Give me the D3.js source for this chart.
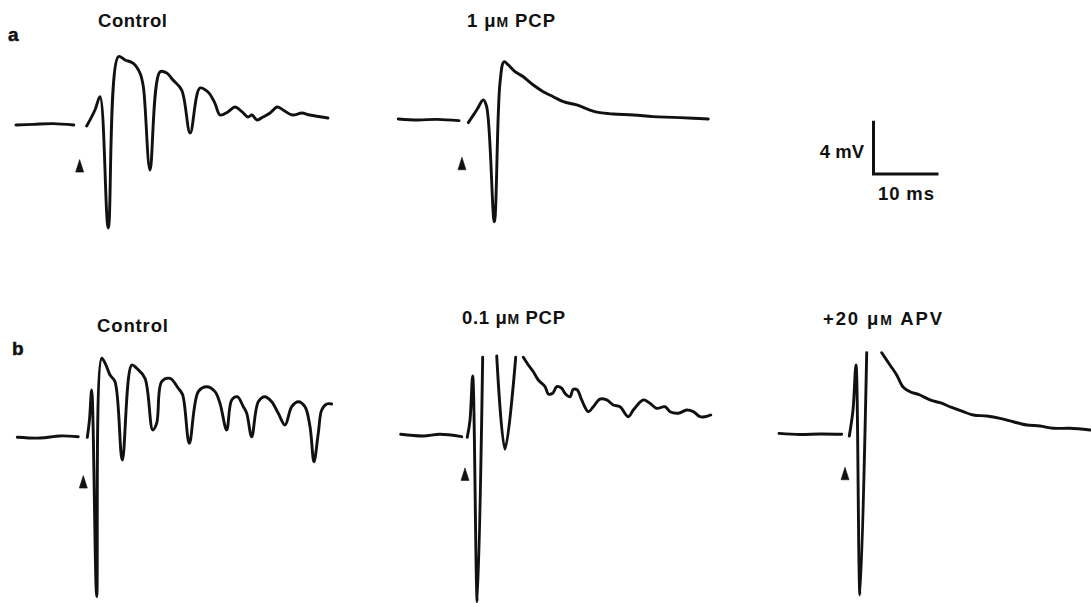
<!DOCTYPE html>
<html><head><meta charset="utf-8">
<script src="https://cdn.jsdelivr.net/npm/d3@7"></script>
<style>body{margin:0;background:#fff}svg{display:block}</style>
</head><body>
<svg id="c" width="1091" height="603"></svg>
<script>
// ---- data (time in ms from stimulus, potential in mV from baseline; null = gap) ----
const panelIds = ["aControl", "aPCP1", "bControl", "bPCP01", "bAPV"];
const panelTitles = ["Control", "1 μM PCP", "Control", "0.1 μM PCP", "+20 μM APV"];
const rowLabels = ["a", "b"];

const aControlT = [-9.7,-7,-4,-0.8,0.2,1.18,2.46,3.23,4.5,6.05,7.08,8.35,9.38,9.9,10.92,12.46,13.5,14.46,15.8,17.1,18.6,19.85,20.9,21.7,22.9,24.0,25.1,26.0,26.6,27.4,28.3,29.4,30.5,31.4,32.8,34.3,35.5,38.3];
const aControlV = [0,0.05,0.1,0,null,-0.08,1.13,2.13,-7.74,5.14,4.89,4.64,3.91,2.88,-3.38,4.0,3.91,3.38,2.63,-0.6,2.78,2.48,1.65,0.75,0.98,1.35,0.98,0.6,0.75,0.38,0.6,0.9,1.35,1.13,0.75,0.9,0.75,0.53];

const aPCP1T = [-9.5,-6.5,-3.5,-0.15,0.5,1.28,2.57,3.58,4.1,5.28,6.15,6.77,7.43,8.46,9.74,11.28,12.8,14.35,15.9,17.95,20.0,21.5,23.6,26.7,29.7,32.8,35.9,38.2];
const aPCP1V = [0.08,0.0,0.05,-0.05,null,-0.2,0.75,1.5,1.0,-7.65,2.78,4.38,4.14,3.63,3.25,2.63,2.13,1.75,1.38,1.13,0.75,0.55,0.45,0.38,0.25,0.2,0.13,0.08];

const bControlT = [-10.15,-6.66,-3.58,-0.77,0,0.62,0.95,1.29,2.06,2.83,3.49,4.11,4.88,6.0,7.45,8.22,9.49,10.68,11.29,12.06,13.34,14.62,15.29,16.31,17.69,18.98,20.26,21.03,22.06,22.83,23.69,24.62,25.14,25.91,26.92,27.95,28.98,30.0,31.03,32.06,33.08,34.1,34.88,35.49,36.15,36.68,37.45,38.2];
const bControlV = [-0.02,-0.08,0.08,0.02,null,-0.02,1.28,3.53,-12.0,5.92,5.41,4.66,4.16,-1.73,5.41,5.17,4.41,0.53,1.03,4.16,4.41,3.66,3.16,-0.47,3.41,3.78,3.41,2.53,0.53,2.78,3.03,2.28,1.78,0.02,2.65,3.03,2.65,1.78,0.9,2.28,2.65,2.28,0.77,-1.86,0.28,2.03,2.48,2.48];

const bPCP01T = [-9.89,-6.42,-3.85,-0.51,0,0.35,0.77,1.18,1.89,2.72,3.8,4.88,6.15,7.8,8.4,8.97,9.74,10.51,11.28,12.31,12.82,13.49,14.11,14.88,15.38,16.15,16.66,17.28,17.95,18.97,19.74,20.77,21.8,22.82,23.85,25.12,25.89,27.43,28.46,29.49,30.77,31.54,32.82,34.11,35.12,36.15,36.92,37.8];
const bPCP01V = [0.13,0,0.13,-0.05,null,-0.1,1.2,4.51,-12.46,5.92,null,6.02,-1.0,5.92,null,5.92,5.34,4.83,4.21,3.71,3.16,3.21,3.71,3.59,3.21,2.95,3.51,3.46,2.71,1.83,2.2,2.78,2.71,2.33,2.2,1.45,1.95,2.71,2.46,2.08,2.2,1.83,1.71,1.95,1.83,1.45,1.45,1.58];

const bAPVT = [-10.15,-6.92,-3.85,-0.51,0,0.66,1.23,1.69,2.31,3.34,4.5,5.65,6.92,7.95,8.97,10.0,11.54,13.08,14.62,16.42,18.2,19.74,21.8,23.85,25.89,27.95,30.0,32.05,34.6,37.7];
const bAPVV = [0.05,-0.04,0,-0.02,null,-0.15,1.8,5.19,-12.1,6.11,null,6.11,5.19,4.44,3.51,3.18,2.93,2.56,2.35,2.0,1.68,1.43,1.35,1.18,0.92,0.68,0.6,0.43,0.43,0.3];

const stimT = [0.1, 0.3, 0, 0, 0];          // stimulus marker time (ms)
const stimV = [-2.6, -2.8, -2.9, -2.4, -2.5]; // stimulus marker level (mV)

const scaleBarMv = 4;
const scaleBarMs = 10;
const scaleBarLabels = ["4 mV", "10 ms"];

// ---- layout ----
const W = 1091, H = 603;
const pxPerMs = 6.5, pxPerMv = 13.3;
const origins = [[79,125],[460,120],[83.3,437],[465,436],[845,434]];
const titlePos = [[98,26.5],[467,26.5],[97,331.5],[462,323.5],[823,325]];
const titleWidths = [69, 88, 71, 103, 119];
const rowLabelPos = [[8,41],[12,355]];
const traceT = [aControlT, aPCP1T, bControlT, bPCP01T, bAPVT];
const traceV = [aControlV, aPCP1V, bControlV, bPCP01V, bAPVV];

const svg = d3.select("#c");
svg.append("rect").attr("width", W).attr("height", H).attr("fill", "#fff");
const font = "'Liberation Sans', Arial, Helvetica, sans-serif";

panelIds.forEach((id, i) => {
  const [ox, oy] = origins[i];
  const x = d3.scaleLinear().domain([0, 10]).range([ox, ox + 10 * pxPerMs]);
  const y = d3.scaleLinear().domain([0, 4]).range([oy, oy - 4 * pxPerMv]);
  const pts = traceT[i].map((t, k) => ({t, v: traceV[i][k]}));
  const line = d3.line()
    .defined(d => d.v !== null)
    .x(d => x(d.t)).y(d => y(d.v))
    .curve(d3.curveCatmullRom.alpha(0.5));
  const g = svg.append("g").attr("id", id);
  g.append("path").attr("d", line(pts))
    .attr("fill", "none").attr("stroke", "#111")
    .attr("stroke-width", 2.9).attr("stroke-linejoin", "round").attr("stroke-linecap", "round");
  // stimulus marker
  const sx = x(stimT[i]), sy = y(stimV[i]);
  g.append("path").attr("d", `M${sx},${sy} L${sx+4},${sy+12.5} L${sx-4},${sy+12.5} Z`)
    .attr("fill", "#111").attr("stroke", "#111").attr("stroke-width", 0.6).attr("stroke-linejoin", "round");
  // title
  const [tx, ty] = titlePos[i];
  const txt = svg.append("text").attr("x", tx).attr("y", ty)
    .attr("font-family", font).attr("font-weight", "bold").attr("font-size", 18.5)
    .attr("textLength", titleWidths[i]).attr("lengthAdjust", "spacing")
    .attr("fill", "#111");
  const parts = panelTitles[i].split("μM");
  if (parts.length === 2) {
    txt.append("tspan").text(parts[0] + "μ");
    txt.append("tspan").attr("font-size", 14).text("M");
    txt.append("tspan").text(parts[1]);
  } else {
    txt.text(panelTitles[i]);
  }
});

rowLabels.forEach((l, i) => {
  svg.append("text").attr("x", rowLabelPos[i][0]).attr("y", rowLabelPos[i][1])
    .attr("font-family", font).attr("font-weight", "bold").attr("font-size", 19)
    .attr("fill", "#111").attr("stroke", "#111").attr("stroke-width", 0.5).text(l);
});

// scale bar
const bx = d3.scaleLinear().domain([0, scaleBarMs]).range([873.5, 873.5 + scaleBarMs * pxPerMs]);
const by = d3.scaleLinear().domain([0, scaleBarMv]).range([174, 174 - scaleBarMv * pxPerMv]);
svg.append("path")
  .attr("d", `M${bx(0)},${by(scaleBarMv)} L${bx(0)},${by(0)} L${bx(scaleBarMs)},${by(0)}`)
  .attr("fill", "none").attr("stroke", "#111").attr("stroke-width", 3);
svg.append("text").attr("x", 864).attr("y", 158).attr("text-anchor", "end")
  .attr("font-family", font).attr("font-weight", "bold").attr("font-size", 18.5)
  .attr("fill", "#111").text(scaleBarLabels[0]);
svg.append("text").attr("x", 878).attr("y", 200)
  .attr("font-family", font).attr("font-weight", "bold").attr("font-size", 18.5)
  .attr("textLength", 56).attr("lengthAdjust", "spacing")
  .attr("fill", "#111").text(scaleBarLabels[1]);
</script>
</body></html>
